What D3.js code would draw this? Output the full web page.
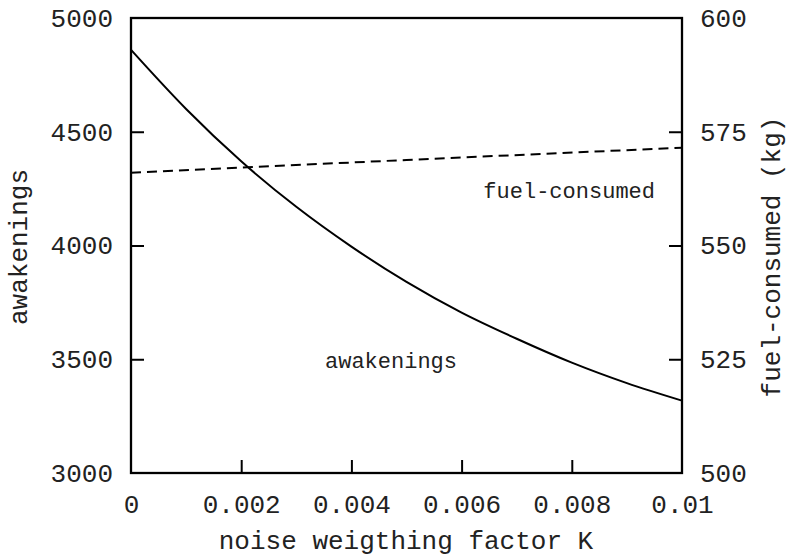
<!DOCTYPE html>
<html>
<head>
<meta charset="utf-8">
<script src="https://cdn.jsdelivr.net/npm/d3@7"></script>
<style>
  html, body { margin: 0; padding: 0; background: #fff; }
  svg { display: block; }
  text { font-family: "Courier New", "Nimbus Mono PS", "FreeMono", "Liberation Mono", monospace; fill: #222; }
</style>
</head>
<body>
<svg id="chart" width="790" height="558"></svg>
<script>
// Noise weighting factor K on the x axis
const kValues = [0, 0.001, 0.002, 0.003, 0.004, 0.005, 0.006, 0.007, 0.008, 0.009, 0.01];
// Number of awakenings (left axis)
const awakenings = [4860, 4600, 4370, 4170, 3995, 3840, 3705, 3590, 3485, 3395, 3318];
// Fuel consumed in kg (right axis)
const fuelK = [0, 0.005, 0.01];
const fuelConsumed = [566, 568.8, 571.5];

const xTicks = [0, 0.002, 0.004, 0.006, 0.008, 0.01];
const xTickLabels = ["0", "0.002", "0.004", "0.006", "0.008", "0.01"];
const yTicks = [3000, 3500, 4000, 4500, 5000];
const y2Ticks = [500, 525, 550, 575, 600];

const svg = d3.select("#chart");
const m = { left: 131, right: 682, top: 18, bottom: 473 };

const x = d3.scaleLinear().domain([0, 0.01]).range([m.left, m.right]);
const y = d3.scaleLinear().domain([3000, 5000]).range([m.bottom, m.top]);
const y2 = d3.scaleLinear().domain([500, 600]).range([m.bottom, m.top]);

const tickLen = 13;
const fs = 26;

// Bottom axis: inward ticks, labels below
const xAxis = d3.axisBottom(x)
  .tickValues(xTicks)
  .tickSize(-tickLen)
  .tickPadding(22)
  .tickFormat((d, i) => xTickLabels[i]);
const gx = svg.append("g").attr("transform", `translate(0,${m.bottom})`).call(xAxis);
gx.select(".domain").remove();
gx.selectAll(".tick line").attr("stroke", "#000").attr("stroke-width", 2);
gx.selectAll(".tick text").attr("font-size", fs).attr("fill", "#222")
  .attr("dy", "0.71em").attr("y", 22);

// Left axis
const yAxis = d3.axisLeft(y).tickValues(yTicks).tickSize(-tickLen).tickPadding(18).tickFormat(d3.format("d"));
const gy = svg.append("g").attr("transform", `translate(${m.left},0)`).call(yAxis);
gy.select(".domain").remove();
gy.selectAll(".tick line").attr("stroke", "#000").attr("stroke-width", 2);
gy.selectAll(".tick text").attr("font-size", fs).attr("fill", "#222");

// Right axis
const y2Axis = d3.axisRight(y2).tickValues(y2Ticks).tickSize(-tickLen).tickPadding(18).tickFormat(d3.format("d"));
const gy2 = svg.append("g").attr("transform", `translate(${m.right},0)`).call(y2Axis);
gy2.select(".domain").remove();
gy2.selectAll(".tick line").attr("stroke", "#000").attr("stroke-width", 2);
gy2.selectAll(".tick text").attr("font-size", fs).attr("fill", "#222");

// Hide end ticks that sit on the frame corners
[gx, gy, gy2].forEach(g => g.selectAll(".tick line").filter(function () {
  const t = d3.select(this.parentNode).datum();
  return t === 0 || t === 0.01 || t === 3000 || t === 5000 || t === 500 || t === 600;
}).remove());

// Plot frame
svg.append("rect")
  .attr("x", m.left).attr("y", m.top)
  .attr("width", m.right - m.left).attr("height", m.bottom - m.top)
  .attr("fill", "none").attr("stroke", "#000").attr("stroke-width", 2.3);

// Awakenings curve
const lineA = d3.line().x((d, i) => x(kValues[i])).y(d => y(d)).curve(d3.curveMonotoneX);
svg.append("path").datum(awakenings)
  .attr("d", lineA).attr("fill", "none").attr("stroke", "#000").attr("stroke-width", 2);

// Fuel consumed line (dashed)
const lineF = d3.line().x((d, i) => x(fuelK[i])).y(d => y2(d));
svg.append("path").datum(fuelConsumed)
  .attr("d", lineF).attr("fill", "none").attr("stroke", "#000")
  .attr("stroke-width", 2).attr("stroke-dasharray", "10,6");

// In-plot series labels
svg.append("text").attr("x", 391).attr("y", 368).attr("text-anchor", "middle")
  .attr("font-size", 22).text("awakenings");
svg.append("text").attr("x", 655).attr("y", 198).attr("text-anchor", "end")
  .attr("font-size", 22).text("fuel-consumed");

// Axis titles
svg.append("text").attr("x", 406).attr("y", 549).attr("text-anchor", "middle")
  .attr("font-size", fs).text("noise weigthing factor K");
svg.append("text").attr("transform", "translate(27,247) rotate(-90)")
  .attr("text-anchor", "middle").attr("font-size", fs).text("awakenings");
svg.append("text").attr("transform", "translate(780,257) rotate(-90)")
  .attr("text-anchor", "middle").attr("font-size", fs).text("fuel-consumed (kg)");
</script>
</body>
</html>
